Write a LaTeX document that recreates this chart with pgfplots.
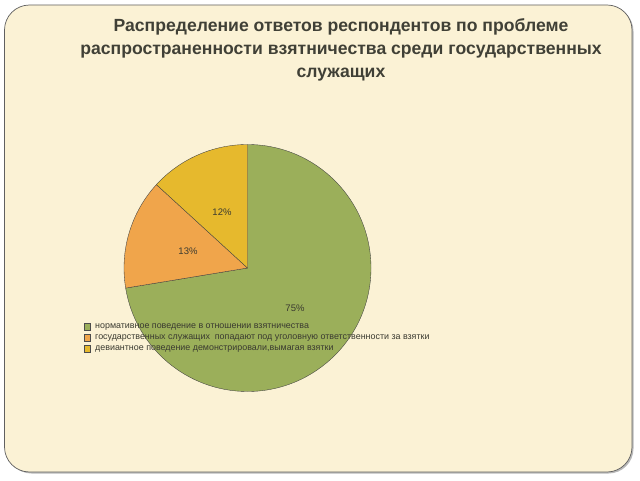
\documentclass[border=0pt]{standalone}
\usepackage{pgfplots}
\usepackage{pgfplotstable}
\pgfplotsset{compat=1.18}
\usepackage{fontspec}
\setmainfont{Liberation Sans}
\definecolor{cgreen}{HTML}{9BAF5A}
\definecolor{corange}{HTML}{F0A54B}
\definecolor{cyellow}{HTML}{E6B92D}
\definecolor{cream}{HTML}{FBF2D5}
\definecolor{ctitle}{HTML}{404036}
\definecolor{ctext}{HTML}{3A3A30}

\pgfplotstableread{
value label
72.4 75\%
14.4 13\%
13.2 12\%
}\piedata

\begin{document}
\begin{tikzpicture}
\pgfplotstablegetelem{0}{value}\of\piedata \let\va\pgfplotsretval
\pgfplotstablegetelem{1}{value}\of\piedata \let\vb\pgfplotsretval
\pgfplotstablegetelem{2}{value}\of\piedata \let\vc\pgfplotsretval
\pgfmathsetmacro{\aA}{90-3.6*\va}
\pgfmathsetmacro{\aB}{\aA-3.6*\vb}
\pgfmathsetmacro{\aC}{\aB-3.6*\vc}
\begin{axis}[width=640pt,height=480pt,scale only axis,
  xmin=0,xmax=640,ymin=0,ymax=480,hide axis,clip=false]
\fill[white] (axis cs:0,0) rectangle (axis cs:640,480);
\fill[gray!55, rounded corners=25pt] (axis cs:6.5,6.5) rectangle (axis cs:633.5,473.5);
\draw[draw=gray!75!black, fill=cream, rounded corners=25pt, line width=0.7pt]
  (axis cs:4.5,8) rectangle (axis cs:632,475);
% title
\node[font=\fontsize{17.6}{23}\selectfont\bfseries, text=ctitle, align=center, anchor=center]
  at (axis cs:341,430) {Распределение ответов респондентов по проблеме\\распространенности взятничества среди государственных\\служащих};
% pie
\fill[cgreen, draw=gray!50!black, line width=0.35pt] (axis cs:247.5,212) -- ++(90:123.5pt)
  arc[start angle=90, end angle=\aA, radius=123.5pt] -- cycle;
\fill[corange, draw=gray!50!black, line width=0.35pt] (axis cs:247.5,212) -- ++(\aA:123.5pt)
  arc[start angle=\aA, end angle=\aB, radius=123.5pt] -- cycle;
\fill[cyellow, draw=gray!50!black, line width=0.35pt] (axis cs:247.5,212) -- ++(\aB:123.5pt)
  arc[start angle=\aB, end angle=\aC, radius=123.5pt] -- cycle;
% labels
\node[font=\fontsize{9.5}{11}\selectfont, text=ctext] at (axis cs:295,172) {75\%};
\node[font=\fontsize{9.5}{11}\selectfont, text=ctext] at (axis cs:188,229) {13\%};
\node[font=\fontsize{9.5}{11}\selectfont, text=ctext] at (axis cs:222,268) {12\%};
% legend
\draw[gray!60!black, fill=cgreen, line width=0.3pt] (axis cs:84,150) rectangle (axis cs:90.5,156.5);
\draw[gray!60!black, fill=corange, line width=0.3pt] (axis cs:84,139) rectangle (axis cs:90.5,145.5);
\draw[gray!60!black, fill=cyellow, line width=0.3pt] (axis cs:84,128) rectangle (axis cs:90.5,134.5);
\node[font=\fontsize{8.9}{10}\selectfont, text=ctext, anchor=west, inner sep=0pt] at (axis cs:95,153) {нормативное поведение в отношении взятничества};
\node[font=\fontsize{8.9}{10}\selectfont, text=ctext, anchor=west, inner sep=0pt] at (axis cs:95,142) {государственных служащих\ \ попадают под уголовную ответственности за взятки};
\node[font=\fontsize{8.9}{10}\selectfont, text=ctext, anchor=west, inner sep=0pt] at (axis cs:95,131) {девиантное поведение демонстрировали,вымагая взятки};
\end{axis}
\end{tikzpicture}
\end{document}
